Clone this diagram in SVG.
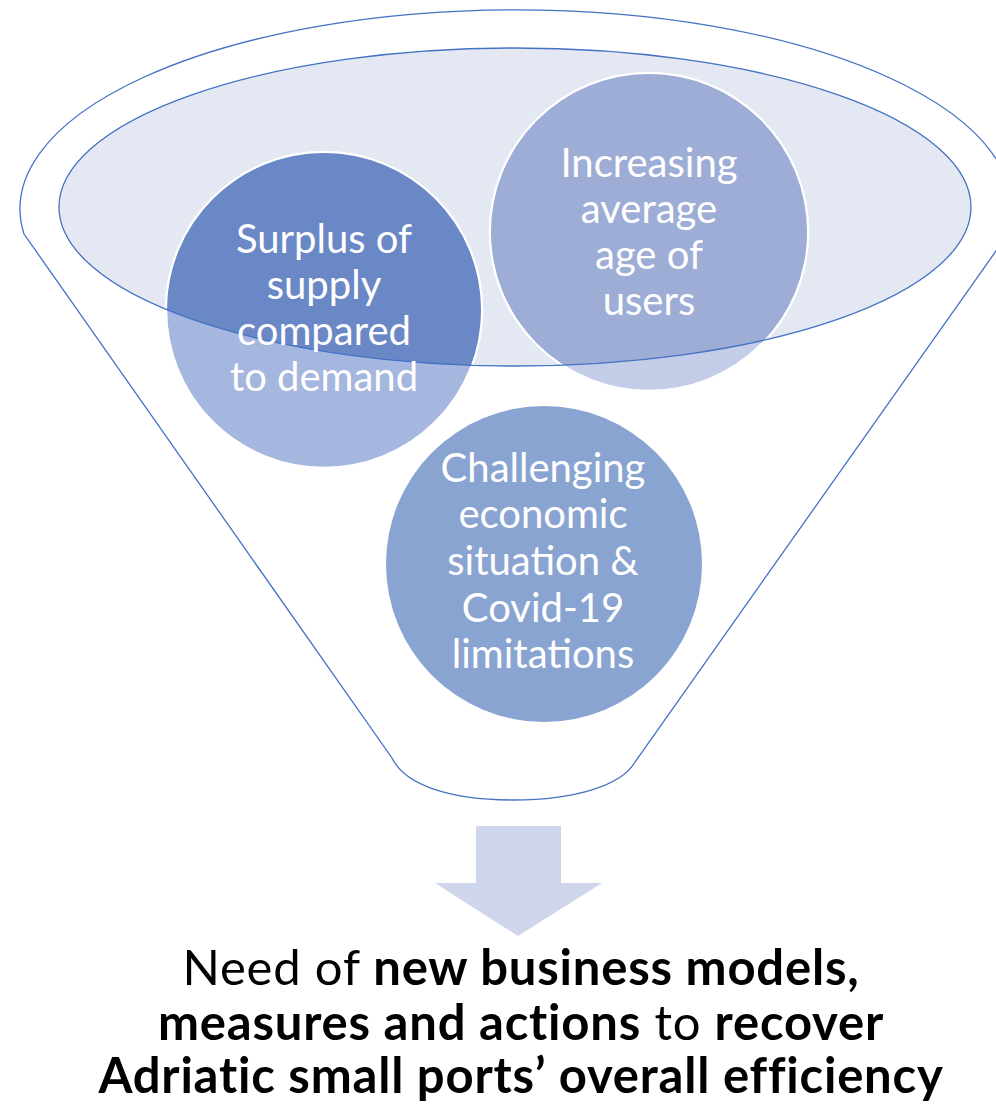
<svg xmlns="http://www.w3.org/2000/svg" width="996" height="1114" viewBox="0 0 996 1114">
<style>
.outline{fill:none;stroke:#4472C4;stroke-width:1.3}
.ctext{font-family:Lato,"Liberation Sans",sans-serif;font-size:40px;fill:#FFFFFF;text-anchor:middle}
.btext{font-family:Lato,"Liberation Sans",sans-serif;font-size:49px;letter-spacing:0.8px;fill:#000000;text-anchor:middle}
.b{font-weight:bold}
</style>
<defs>
<clipPath id="innerClip"><ellipse cx="515" cy="207" rx="456" ry="159"/></clipPath>
</defs>
<rect width="996" height="1114" fill="#FFFFFF"/>
<g id="funnel">
<path class="outline" d="M24,234 A496,199 0 1 1 1008,234 L635,762 C622,785 576,800 513,800 C450,800 405,785 392,758 Z"/>
<ellipse cx="515" cy="207" rx="456" ry="159" fill="#E4E8F3" stroke="none"/>
</g>
<g id="node-surplus">
<circle cx="324" cy="310" r="158" fill="#A5B6DF" stroke="#FFFFFF" stroke-width="2.5"/>
<circle cx="324" cy="310" r="157" fill="#6A88C6" clip-path="url(#innerClip)"/>
</g>
<g id="node-increasing">
<circle cx="649" cy="232" r="159" fill="#C3CDE8" stroke="#FFFFFF" stroke-width="2.5"/>
<circle cx="649" cy="232" r="158" fill="#9DADD6" clip-path="url(#innerClip)"/>
</g>
<ellipse cx="515" cy="207" rx="456" ry="159" class="outline"/>
<g id="node-challenging">
<circle cx="544" cy="564" r="158" fill="#8AA4D1"/>
</g>
<g id="labels">
<text class="ctext" x="324"><tspan x="324" y="253">Surplus of</tspan><tspan x="324" y="299">supply</tspan><tspan x="324" y="345">compared</tspan><tspan x="324" y="391">to demand</tspan></text>
<text class="ctext" x="649"><tspan x="649" y="177">Increasing</tspan><tspan x="649" y="223">average</tspan><tspan x="649" y="269">age of</tspan><tspan x="649" y="315">users</tspan></text>
<text class="ctext" x="543"><tspan x="543" y="482">Challenging</tspan><tspan x="543" y="528">economic</tspan><tspan x="543" y="575">situation &amp;</tspan><tspan x="543" y="622">Covid-19</tspan><tspan x="543" y="668">limitations</tspan></text>
</g>
<g id="connectors">
<path d="M476,826 L561,826 L561,883 L602,883 L518,936 L435,883 L476,883 Z" fill="#CFD5EA"/>
</g>
<g id="result">
<text class="btext"><tspan x="521" y="985">Need of <tspan class="b">new business models,</tspan></tspan><tspan x="521" y="1040"><tspan class="b">measures and actions</tspan> to <tspan class="b">recover</tspan></tspan><tspan x="521" y="1093" class="b">Adriatic small ports’ overall efficiency</tspan></text>
</g>
</svg>
